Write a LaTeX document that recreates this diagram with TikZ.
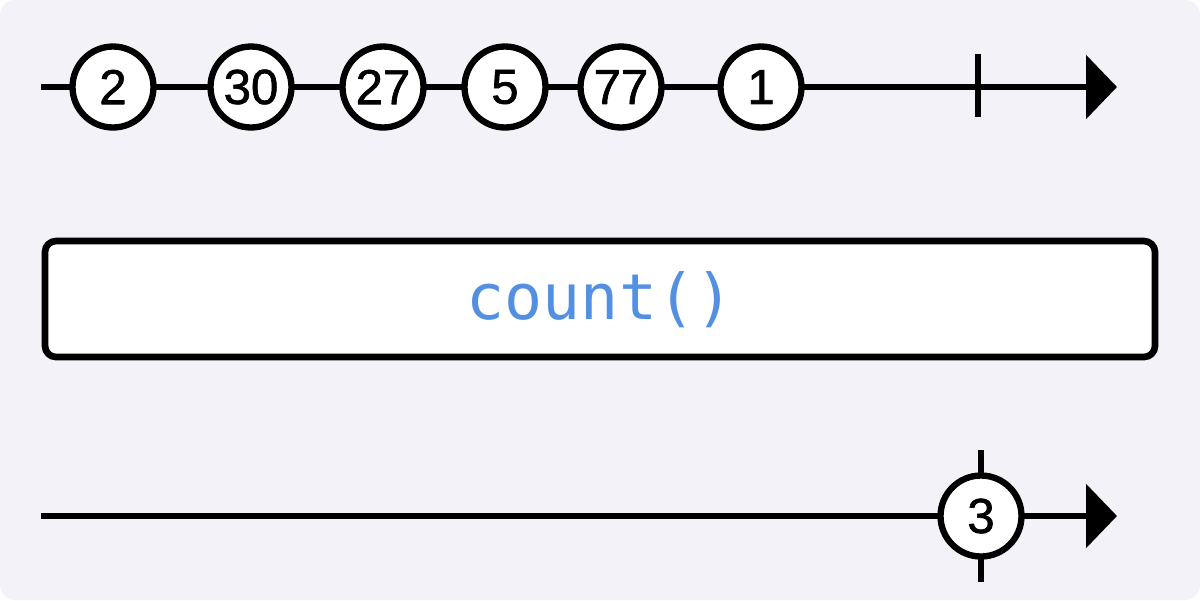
\documentclass[tikz,border=0pt]{standalone}
\usepackage{fontspec}
\setmainfont{Liberation Sans}
\newfontfamily\marblefont[FakeBold=1.3]{Liberation Sans}
\newfontfamily\codefont{DejaVu Sans Mono}
\usetikzlibrary{arrows.meta}
\definecolor{bgpanel}{RGB}{242,242,248}
\definecolor{opblue}{RGB}{84,144,226}
\tikzset{>={Triangle[length=0.62cm,width=1.26cm]},
every picture/.append style={
    line join=round,
    line width=3.6pt
  },
  timeline/.style={->,line cap=butt},
  marble/.style={circle,draw,fill=white,minimum size=1.62cm,inner sep=0pt,
    font=\marblefont\fontsize{28}{32}\selectfont},
  endtick/.style={line cap=butt},
  opbox/.style={draw,fill=white,rounded corners=0.22cm,line width=3.8pt}
}
\begin{document}
\begin{tikzpicture}[x=0.02cm,y=-0.02cm]
        \useasboundingbox (0,0) rectangle (1200,600);
        \fill [bgpanel,rounded corners=0.3cm] (0,0) rectangle (1200,600);
        \coordinate (ins) at (41,87);
        \coordinate (ine) at (1117,87);
        \coordinate (outs) at (41,516);
        \coordinate (oute) at (1117,516);
        \draw [timeline] (ins) -- (ine);
        \draw [endtick] (978,54) -- (978,117);
        \foreach \x/\v [count=\i] in {113/2,251/30,383/27,505/5,621/77,761/1}
            \node [marble] (m\i) at (\x,87) {\v};
        \draw [opbox] (45,241) rectangle (1155,357);
        \node [text=opblue,font=\codefont\fontsize{36}{40}\selectfont] (op) at (600,300) {count()};
        \draw [timeline] (outs) -- (oute);
        \draw [endtick] (981,450) -- (981,582);
        \node [marble] (res) at (981,516) {3};
    \end{tikzpicture}
\end{document}
